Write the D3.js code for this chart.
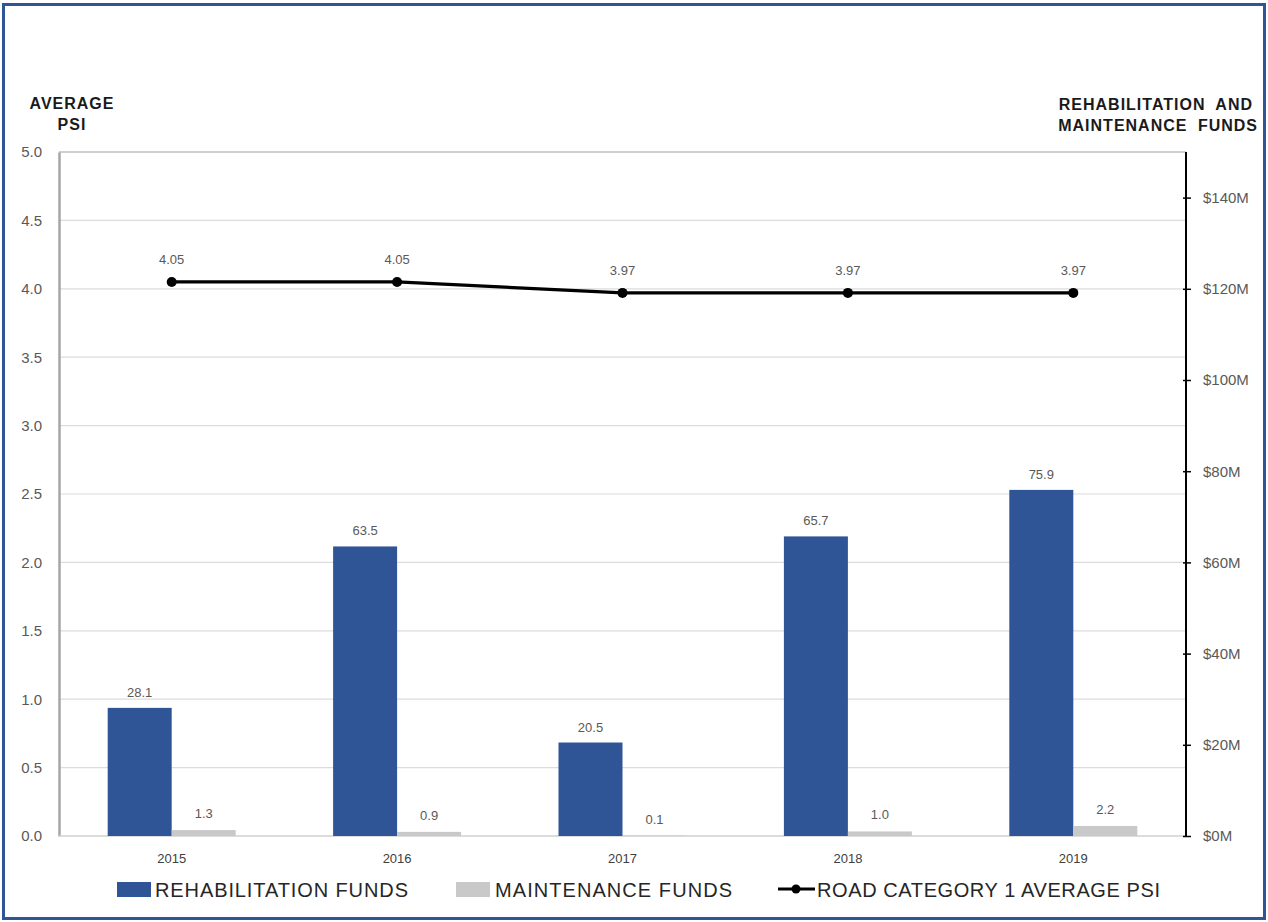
<!DOCTYPE html>
<html>
<head>
<meta charset="utf-8">
<script src="https://cdn.jsdelivr.net/npm/d3@7"></script>
<style>
  html, body { margin: 0; padding: 0; background: #fff; }
  svg { display: block; }
  text { font-family: "Liberation Sans", Arial, sans-serif; }
</style>
</head>
<body>
<svg id="chart" width="1268" height="922"></svg>
<script>
// Road category 1: funding by year with average PSI
const years = ["2015", "2016", "2017", "2018", "2019"];
const rehabFunds = [28.1, 63.5, 20.5, 65.7, 75.9];      // $M
const maintFunds = [1.3, 0.9, 0.1, 1.0, 2.2];           // $M
const avgPsi = [4.05, 4.05, 3.97, 3.97, 3.97];
const psiTicks = [0, 0.5, 1, 1.5, 2, 2.5, 3, 3.5, 4, 4.5, 5];
const fundTicks = [0, 20, 40, 60, 80, 100, 120, 140];
const legendLabels = ["REHABILITATION FUNDS", "MAINTENANCE FUNDS", "ROAD CATEGORY 1 AVERAGE PSI"];

const W = 1268, H = 922;
const plot = { left: 59, right: 1186, top: 152, bottom: 836 };
const blue = "#2F5597", grey = "#C9C9C9", labelGrey = "#595959";

const svg = d3.select("#chart");

// outer frame
svg.append("rect").attr("x", 3.5).attr("y", 4.5).attr("width", W - 7).attr("height", H - 8)
  .attr("fill", "#fff").attr("stroke", blue).attr("stroke-width", 3);

const x = d3.scaleBand().domain(years).range([plot.left, plot.right]).paddingInner(0).paddingOuter(0);
const yPsi = d3.scaleLinear().domain([0, 5]).range([plot.bottom, plot.top]);
const yFund = d3.scaleLinear().domain([0, 150]).range([plot.bottom, plot.top]);
const barW = 64;

// gridlines
svg.append("g").selectAll("line").data(psiTicks.slice(1)).join("line")
  .attr("x1", plot.left).attr("x2", plot.right)
  .attr("y1", d => yPsi(d)).attr("y2", d => yPsi(d))
  .attr("stroke", d => d === 5 ? "#BFBFBF" : "#DCDCDC").attr("stroke-width", d => d === 5 ? 1.5 : 1.2);

// left axis
const leftAxis = d3.axisLeft(yPsi).tickValues(psiTicks).tickFormat(d3.format(".1f")).tickSize(0).tickPadding(17);
const gl = svg.append("g").attr("transform", `translate(${plot.left},0)`).call(leftAxis);
gl.select(".domain").attr("stroke", "#A6A6A6").attr("stroke-width", 2.5);
gl.selectAll("text").attr("font-size", 15).attr("fill", labelGrey).attr("font-family", "Liberation Sans Narrow, Liberation Sans, sans-serif");

// bottom baseline
svg.append("line").attr("x1", plot.left).attr("x2", plot.right)
  .attr("y1", plot.bottom).attr("y2", plot.bottom).attr("stroke", "#D0D0D0").attr("stroke-width", 1.5);

// bars
const gBars = svg.append("g");
gBars.selectAll("rect.rehab").data(years).join("rect").attr("class", "rehab")
  .attr("x", (d) => x(d) + x.bandwidth() / 2 - barW)
  .attr("width", barW)
  .attr("y", (d, i) => yFund(rehabFunds[i]))
  .attr("height", (d, i) => yFund(0) - yFund(rehabFunds[i]))
  .attr("fill", blue);
gBars.selectAll("rect.maint").data(years).join("rect").attr("class", "maint")
  .attr("x", (d) => x(d) + x.bandwidth() / 2)
  .attr("width", barW)
  .attr("y", (d, i) => yFund(maintFunds[i]))
  .attr("height", (d, i) => yFund(0) - yFund(maintFunds[i]))
  .attr("fill", grey);

// bar value labels
const gLab = svg.append("g").attr("font-size", 13).attr("fill", labelGrey).attr("text-anchor", "middle");
gLab.selectAll("text.r").data(years).join("text").attr("class", "r")
  .attr("x", d => x(d) + x.bandwidth() / 2 - barW / 2)
  .attr("y", (d, i) => yFund(rehabFunds[i]) - 11)
  .text((d, i) => rehabFunds[i].toFixed(1));
gLab.selectAll("text.m").data(years).join("text").attr("class", "m")
  .attr("x", d => x(d) + x.bandwidth() / 2 + barW / 2)
  .attr("y", (d, i) => yFund(maintFunds[i]) - 12)
  .text((d, i) => maintFunds[i].toFixed(1));

// right axis
const rightAxis = d3.axisRight(yFund).tickValues(fundTicks).tickFormat(d => `$${d}M`).tickSize(5).tickPadding(12);
const gr = svg.append("g").attr("transform", `translate(${plot.right},0)`).call(rightAxis);
gr.select(".domain").attr("stroke", "#000").attr("stroke-width", 2).attr("d", `M0,${plot.top}V${plot.bottom}`);
gr.selectAll(".tick line").attr("stroke", "#000").attr("stroke-width", 1.5).attr("x1", -3);
gr.selectAll("text").attr("font-size", 15).attr("fill", labelGrey).attr("font-family", "Liberation Sans Narrow, Liberation Sans, sans-serif");

// x axis labels
svg.append("g").selectAll("text").data(years).join("text")
  .attr("x", d => x(d) + x.bandwidth() / 2).attr("y", 863)
  .attr("text-anchor", "middle").attr("font-size", 13).attr("fill", "#404040")
  .text(d => d);

// PSI line
const line = d3.line().x((d, i) => x(years[i]) + x.bandwidth() / 2).y(d => yPsi(d));
svg.append("path").datum(avgPsi).attr("d", line)
  .attr("fill", "none").attr("stroke", "#000").attr("stroke-width", 3.2);
svg.append("g").selectAll("circle").data(avgPsi).join("circle")
  .attr("cx", (d, i) => x(years[i]) + x.bandwidth() / 2).attr("cy", d => yPsi(d))
  .attr("r", 5).attr("fill", "#000");
svg.append("g").attr("font-size", 13).attr("fill", labelGrey).attr("text-anchor", "middle")
  .selectAll("text").data(avgPsi).join("text")
  .attr("x", (d, i) => x(years[i]) + x.bandwidth() / 2).attr("y", d => yPsi(d) - 18)
  .text(d => d.toFixed(2));

// axis titles
const tl = svg.append("text").attr("font-size", 16).attr("font-weight", "bold").attr("fill", "#1a1a1a")
  .attr("text-anchor", "middle").attr("letter-spacing", 1);
tl.append("tspan").attr("x", 72).attr("y", 109).text("AVERAGE");
tl.append("tspan").attr("x", 72).attr("y", 130).text("PSI");
const tr = svg.append("text").attr("font-size", 16).attr("font-weight", "bold").attr("fill", "#1a1a1a")
  .attr("text-anchor", "end").attr("letter-spacing", 1);
tr.append("tspan").attr("x", 1253).attr("y", 110).attr("word-spacing", 5).text("REHABILITATION AND");
tr.append("tspan").attr("x", 1258).attr("y", 131).attr("word-spacing", 5).text("MAINTENANCE FUNDS");

// legend
const lg = svg.append("g").attr("font-size", 20).attr("fill", "#262626");
lg.append("rect").attr("x", 117).attr("y", 882).attr("width", 34).attr("height", 15).attr("fill", blue);
lg.append("text").attr("x", 155).attr("y", 897).attr("textLength", 253).text(legendLabels[0]);
lg.append("rect").attr("x", 456).attr("y", 882).attr("width", 34).attr("height", 15).attr("fill", grey);
lg.append("text").attr("x", 495).attr("y", 897).attr("textLength", 237).text(legendLabels[1]);
lg.append("line").attr("x1", 778).attr("x2", 815).attr("y1", 889).attr("y2", 889)
  .attr("stroke", "#000").attr("stroke-width", 3);
lg.append("circle").attr("cx", 796).attr("cy", 889).attr("r", 4.5).attr("fill", "#000");
lg.append("text").attr("x", 817).attr("y", 897).attr("textLength", 343).text(legendLabels[2]);
</script>
</body>
</html>
